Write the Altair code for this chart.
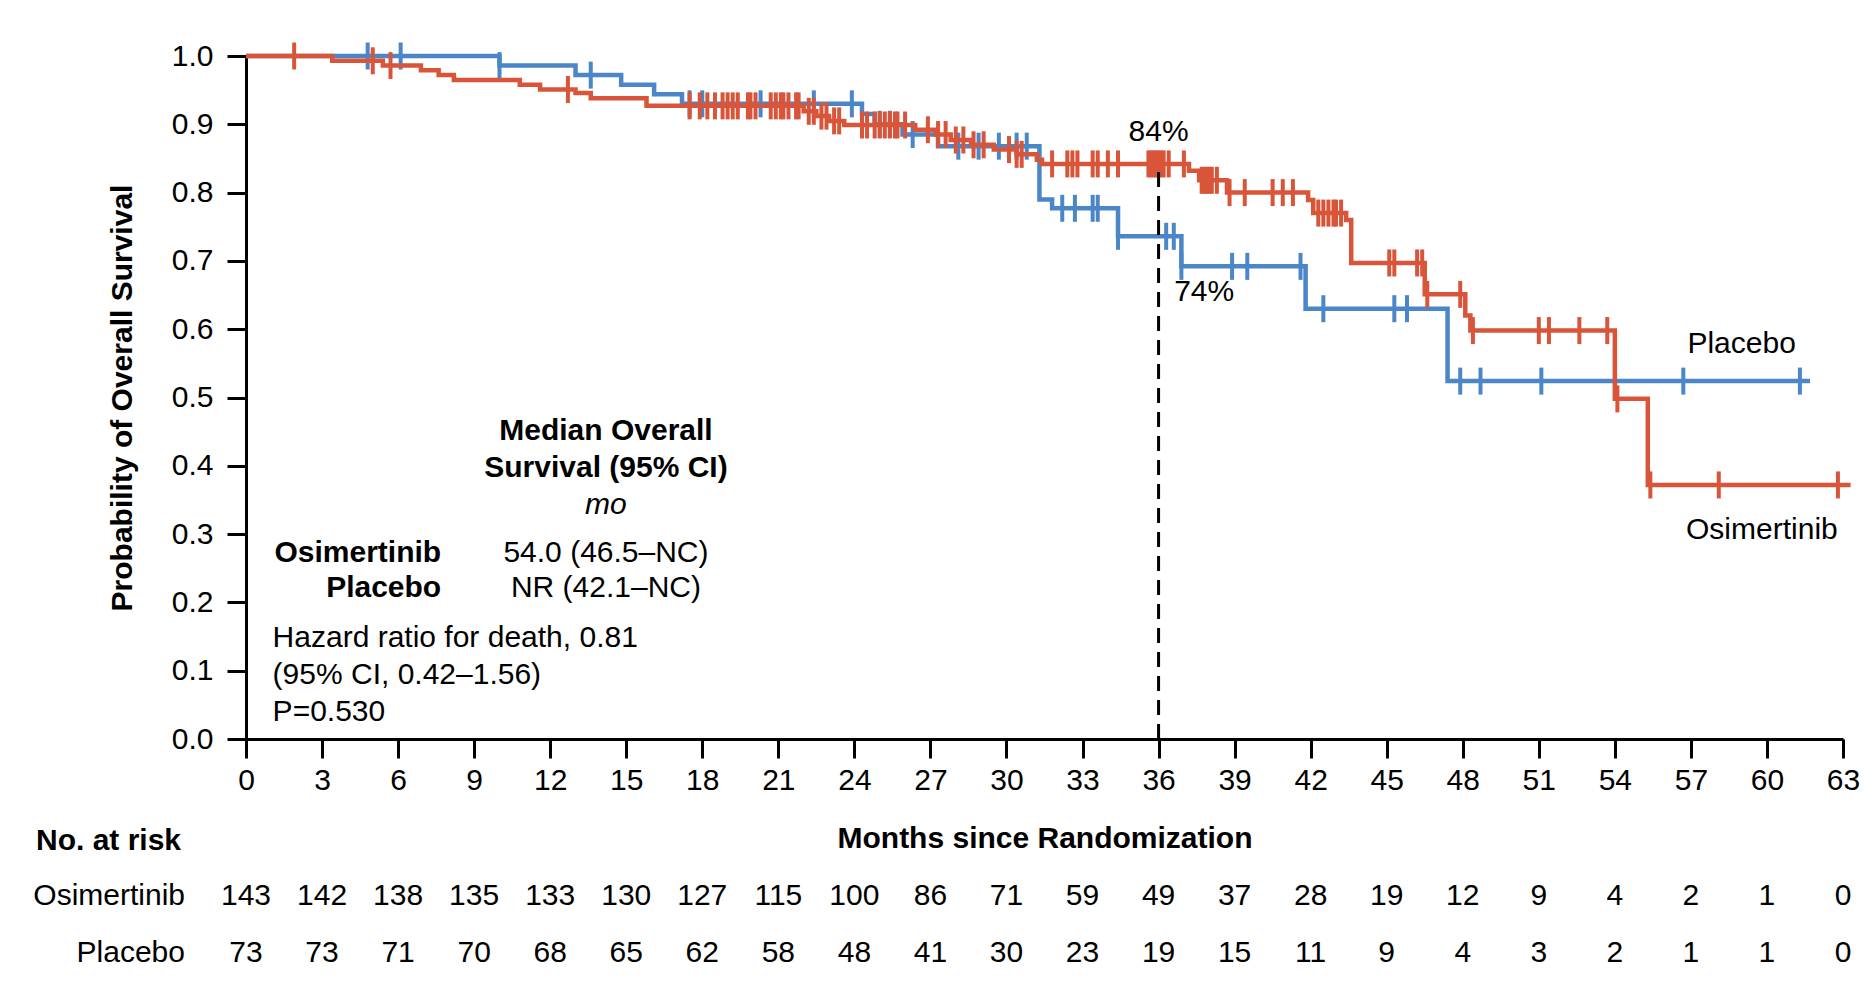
import altair as alt
import pandas as pd

# ---------------- data ----------------
month_ticks = list(range(0, 64, 3))
osi_at_risk = [143, 142, 138, 135, 133, 130, 127, 115, 100, 86, 71, 59, 49, 37, 28, 19, 12, 9, 4, 2, 1, 0]
pla_at_risk = [73, 73, 71, 70, 68, 65, 62, 58, 48, 41, 30, 23, 19, 15, 11, 9, 4, 3, 2, 1, 1, 0]

osi_time = [0, 3.4, 5.4, 6.9, 7.6, 8.2, 10.8, 11.6, 13.0, 13.6, 15.8, 22.0, 22.5, 23.0, 23.6,
            26.4, 27.2, 27.8, 28.6, 29.5, 30.4, 31.2, 31.4, 37.2, 37.6, 38.7, 41.9, 42.1,
            43.4, 43.6, 46.5, 48.1, 48.3, 54.0, 55.3, 63.3]
osi_surv = [1.0, 0.993, 0.986, 0.979, 0.972, 0.965, 0.958, 0.951, 0.946, 0.938, 0.927, 0.919, 0.912, 0.905, 0.899,
            0.892, 0.885, 0.877, 0.870, 0.863, 0.856, 0.848, 0.842, 0.832, 0.818, 0.800, 0.789, 0.770,
            0.760, 0.697, 0.651, 0.620, 0.598, 0.498, 0.372, 0.372]

pla_time = [0, 10.0, 13.0, 14.8, 16.1, 17.2, 24.3, 24.8, 25.9, 27.3, 31.3, 31.8, 34.4, 36.9, 41.8, 47.4, 61.7]
pla_surv = [1.0, 0.986, 0.972, 0.958, 0.944, 0.930, 0.915, 0.900, 0.885, 0.868, 0.790, 0.777, 0.736, 0.692, 0.630, 0.524, 0.524]

osi_censor = [1.9, 5.0, 5.7, 12.7, 17.5, 17.9, 18.2, 18.5, 18.8, 19.0, 19.2, 19.4, 19.8, 19.9, 20.1, 20.7,
              20.9, 21.1, 21.2, 21.4, 21.7, 21.8, 22.2, 22.4, 22.7, 22.9, 23.2, 23.4, 24.3, 24.5, 24.8,
              25.0, 25.2, 25.4, 25.6, 25.7, 26.0, 26.9, 27.3, 27.6, 28.0, 28.3, 28.7, 29.1, 30.1, 30.4,
              30.6, 31.8, 32.4, 32.6, 32.8, 33.4, 33.6, 34.0, 34.4, 35.6, 35.7, 35.8, 35.9, 36.0, 36.1,
              36.2, 36.4, 37.0, 37.7, 37.8, 37.9, 38.0, 38.1, 38.3, 38.8, 39.4, 40.5, 40.9, 41.3, 42.3,
              42.5, 42.7, 42.9, 43.0, 43.2, 45.1, 45.3, 46.2, 46.4, 46.6, 47.9, 48.4, 51.0, 51.4, 52.6,
              53.7, 54.1, 55.4, 58.1, 62.8]
pla_censor = [4.8, 6.1, 10.0, 13.6, 17.5, 18.0, 20.3, 22.4, 23.9, 25.0, 25.4, 26.3, 28.1, 28.9, 29.7,
              30.4, 30.8, 32.2, 32.7, 33.4, 33.6, 34.4, 36.3, 36.6, 36.9, 38.9, 39.5, 41.6, 42.5,
              45.3, 45.8, 47.9, 48.7, 51.1, 56.7, 61.3]

landmark_month = 36
landmark_osi = 0.842

BLUE = "#4A86C8"
RED = "#D9553A"
FONT = "Liberation Sans"
FS = 30


def surv_at(times, survs, t):
    s = survs[0]
    for tt, ss in zip(times, survs):
        if tt <= t:
            s = ss
        else:
            break
    return s


curves = pd.concat([
    pd.DataFrame({"t": pla_time, "s": pla_surv, "arm": "Placebo"}),
    pd.DataFrame({"t": osi_time, "s": osi_surv, "arm": "Osimertinib"}),
])
cens = pd.concat([
    pd.DataFrame({"t": pla_censor, "s": [surv_at(pla_time, pla_surv, c) for c in pla_censor], "arm": "Placebo"}),
    pd.DataFrame({"t": osi_censor, "s": [surv_at(osi_time, osi_surv, c) for c in osi_censor], "arm": "Osimertinib"}),
])

x_scale = alt.Scale(domain=[0, 63], nice=False, zero=False)
y_scale = alt.Scale(domain=[0, 1], nice=False)
x_axis = alt.Axis(values=month_ticks, title="Months since Randomization", grid=False,
                  tickSize=19, labelPadding=7, titlePadding=28, labelFlush=False)
y_axis = alt.Axis(values=[i / 10 for i in range(11)], format=".1f", title="Probability of Overall Survival",
                  grid=False, tickSize=19, labelPadding=14, titlePadding=34)

X = alt.X("t:Q", scale=x_scale, axis=x_axis)
Y = alt.Y("s:Q", scale=y_scale, axis=y_axis)

base_blue = alt.Chart(curves[curves.arm == "Placebo"]).mark_line(
    interpolate="step-after", strokeWidth=4.5, color=BLUE, clip=False).encode(x=X, y=Y)
cens_blue = alt.Chart(cens[cens.arm == "Placebo"]).mark_tick(
    orient="vertical", size=27, thickness=4, color=BLUE, opacity=1).encode(x=X, y=Y)
base_red = alt.Chart(curves[curves.arm == "Osimertinib"]).mark_line(
    interpolate="step-after", strokeWidth=4.5, color=RED, clip=False).encode(x=X, y=Y)
cens_red = alt.Chart(cens[cens.arm == "Osimertinib"]).mark_tick(
    orient="vertical", size=27, thickness=4, color=RED, opacity=1).encode(x=X, y=Y)

rule = alt.Chart(pd.DataFrame({"t": [landmark_month], "s": [0.0], "s2": [landmark_osi]})).mark_rule(
    color="black", strokeWidth=3, strokeDash=[15, 9]).encode(x=X, y=Y, y2="s2:Q")


def text_layer(df, **kw):
    return alt.Chart(df).mark_text(font=FONT, fontSize=FS, color="black", baseline="middle", **kw).encode(
        x=X, y=Y, text="label:N")


ann_bold_c = pd.DataFrame({"label": ["Median Overall", "Survival (95% CI)"], "t": [14.2, 14.2], "s": [0.451, 0.397]})
ann_ital_c = pd.DataFrame({"label": ["mo"], "t": [14.2], "s": [0.343]})
ann_bold_r = pd.DataFrame({"label": ["Osimertinib", "Placebo"], "t": [7.7, 7.7], "s": [0.273, 0.221]})
ann_norm_c = pd.DataFrame({
    "label": ["54.0 (46.5–NC)", "NR (42.1–NC)", "84%", "74%", "Placebo", "Osimertinib"],
    "t": [14.2, 14.2, 36.0, 37.8, 59.0, 59.8],
    "s": [0.273, 0.221, 0.888, 0.655, 0.579, 0.306]})
ann_norm_l = pd.DataFrame({
    "label": ["Hazard ratio for death, 0.81", "(95% CI, 0.42–1.56)", "P=0.530"],
    "t": [1.05, 1.05, 1.05], "s": [0.148, 0.093, 0.039]})

t1 = text_layer(ann_bold_c, fontWeight="bold", align="center")
t2 = text_layer(ann_ital_c, fontStyle="italic", align="center")
t3 = text_layer(ann_bold_r, fontWeight="bold", align="right")
t4 = text_layer(ann_norm_c, align="center")
t5 = text_layer(ann_norm_l, align="left")

# number at risk table
risk = pd.concat([
    pd.DataFrame({"t": month_ticks, "n": osi_at_risk, "row": "Osimertinib"}),
    pd.DataFrame({"t": month_ticks, "n": pla_at_risk, "row": "Placebo"}),
])
ROW_OSI = 840
ROW_PLA = 897
risk_osi = alt.Chart(risk[risk.row == "Osimertinib"]).mark_text(
    font=FONT, fontSize=FS, color="black", baseline="middle").encode(x=X, y=alt.value(ROW_OSI), text="n:Q")
risk_pla = alt.Chart(risk[risk.row == "Placebo"]).mark_text(
    font=FONT, fontSize=FS, color="black", baseline="middle").encode(x=X, y=alt.value(ROW_PLA), text="n:Q")
row_labels = alt.Chart(pd.DataFrame({"label": ["Osimertinib", "Placebo"], "py": [ROW_OSI, ROW_PLA]})).mark_text(
    font=FONT, fontSize=FS, color="black", baseline="middle", align="right").encode(
    x=alt.value(-61), y=alt.Y("py:Q", scale=None), text="label:N")
risk_title = alt.Chart(pd.DataFrame({"label": ["No. at risk"]})).mark_text(
    font=FONT, fontSize=FS, fontWeight="bold", color="black", baseline="middle", align="left").encode(
    x=alt.value(-210), y=alt.value(785), text="label:N")

chart = alt.layer(
    base_blue, cens_blue, base_red, cens_red, rule, t1, t2, t3, t4, t5,
    risk_osi, risk_pla, row_labels, risk_title
).properties(
    width=1597, height=683,
    padding={"left": 238, "top": 48, "right": 22, "bottom": 236},
    autosize=alt.AutoSizeParams(type="none"),
    background="white",
).configure_view(stroke=None).configure_axis(
    domainColor="black", domainWidth=3, tickColor="black", tickWidth=3,
    labelFont=FONT, labelFontSize=FS, labelColor="black",
    titleFont=FONT, titleFontSize=FS, titleFontWeight="bold", titleColor="black",
)

chart.save("out.html", embed_options={"renderer": "svg", "actions": False})
